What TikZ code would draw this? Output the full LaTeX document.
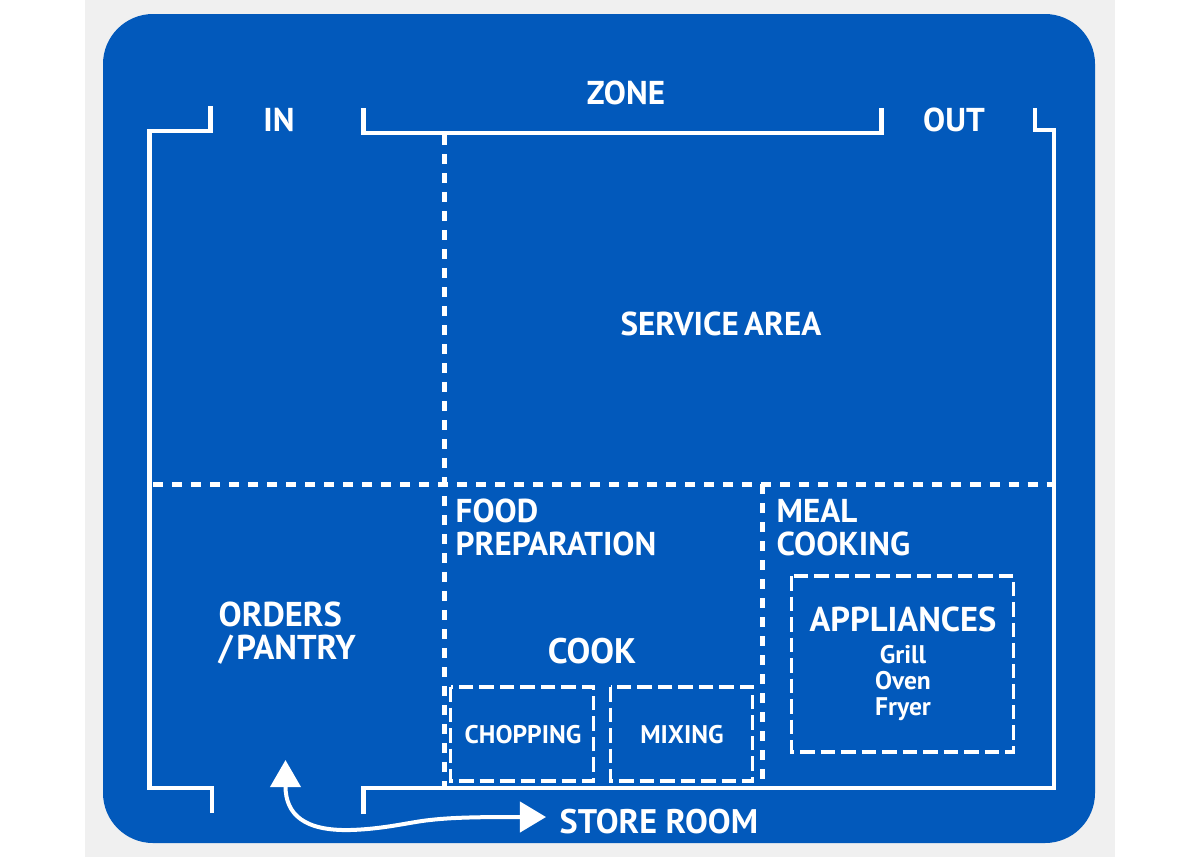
\documentclass[tikz,border=0pt]{standalone}
\usepackage{fontspec}
\setmainfont{PT Sans}
\usepackage{xcolor}
\usetikzlibrary{calc}
\usetikzlibrary{arrows.meta}
\definecolor{planblue}{HTML}{0259BB}
\definecolor{planmargin}{HTML}{F0F0F0}

\begin{document}
\begin{tikzpicture}[x=0.01cm,y=-0.01cm,
                    wall/.style={draw=white,line width=0.045cm,line cap=butt,miter limit=10},
                    zone cut/.style={draw=white,line width=0.05cm,dash pattern=on 0.1cm off 0.09cm},
                    box cut/.style={draw=white,line width=0.032cm,dash pattern=on 0.145cm off 0.06cm},
                    main label/.style={text=white,font=\fontsize{9.4pt}{9.35pt}\selectfont\bfseries,align=left,inner sep=0pt},
                    big label/.style={main label,font=\fontsize{9.8pt}{9.4pt}\selectfont\bfseries},
                    small label/.style={text=white,font=\fontsize{7.25pt}{7.4pt}\selectfont\bfseries,align=center,inner sep=0pt},
                    route/.style={draw=white,line width=0.04cm,{Triangle[length=0.27cm,width=0.3cm]}-{Triangle[length=0.26cm,width=0.3cm]}}]

  \useasboundingbox (0,0) rectangle (1200,857);
  \fill[white] (0,0) rectangle (1200,857);
  \fill[planmargin] (85,0) rectangle (1115,857);
  \fill[planblue,rounded corners=0.5cm] (103,14) rectangle (1095,843);

  % walls
  \draw[wall] (210.5,106) -- (210.5,131) -- (149.5,131) -- (149.5,788) -- (212,788) -- (212,813);
  \draw[wall] (363.5,108) -- (363.5,133) -- (881.5,133) -- (881.5,108);
  \draw[wall] (1035,108) -- (1035,130) -- (1054,130) -- (1054,788) -- (363.5,788) -- (363.5,814);

  % zones
  \draw[zone cut] (444.5,135) -- (444.5,788);
  \draw[zone cut] (153,484) -- (1054,484);
  \draw[zone cut] (762,484) -- (762,790);

  \draw[box cut] (450.5,687) rectangle (593.5,781);
  \draw[box cut] (610.5,687) rectangle (752.5,781);
  \draw[box cut] (791.5,576) rectangle (1013.5,752);

  \node[main label] (zone) at (626,93) {ZONE};
  \node[main label] (in) at (279,120) {IN};
  \node[main label] (out) at (954,120) {OUT};
  \node[main label] (service) at (721,323.5) {SERVICE\hspace{-0.03cm} AREA};
  \node[main label,anchor=west] (food) at (455,527.5) {FOOD\\PREPARATION};
  \node[main label,anchor=west] (meal) at (776,527.5) {MEAL\\COOKING};
  \node[big label,anchor=west] (orders) at (218,633) {ORDERS\\/\hspace{-0.05cm} PANTRY};
  \node[big label,font=\fontsize{10.1pt}{9.4pt}\selectfont\bfseries] (cook) at (592,651) {COOK};
  \node[big label] (appliances) at (903,619) {APPLIANCES};
  \node[small label] (list) at (903,683) {Grill\\Oven\\Fryer};
  \node[small label] (chopping) at (523,735) {CHOPPING};
  \node[small label] (mixing) at (682,735) {MIXING};
  \node[big label,anchor=west,font=\fontsize{9.7pt}{9.4pt}\selectfont\bfseries] (store) at (559,822) {STORE ROOM};

  \coordinate (pantry tip) at (285.5,760);
  \coordinate (store tip) at (546,817);
  \draw[route] (pantry tip) .. controls (285.5,815) and (305,831) .. (350,830)
    .. controls (385,829) and (410,822) .. (430,820) .. controls (455,817) and (490,817) .. (store tip);
\end{tikzpicture}
\end{document}
